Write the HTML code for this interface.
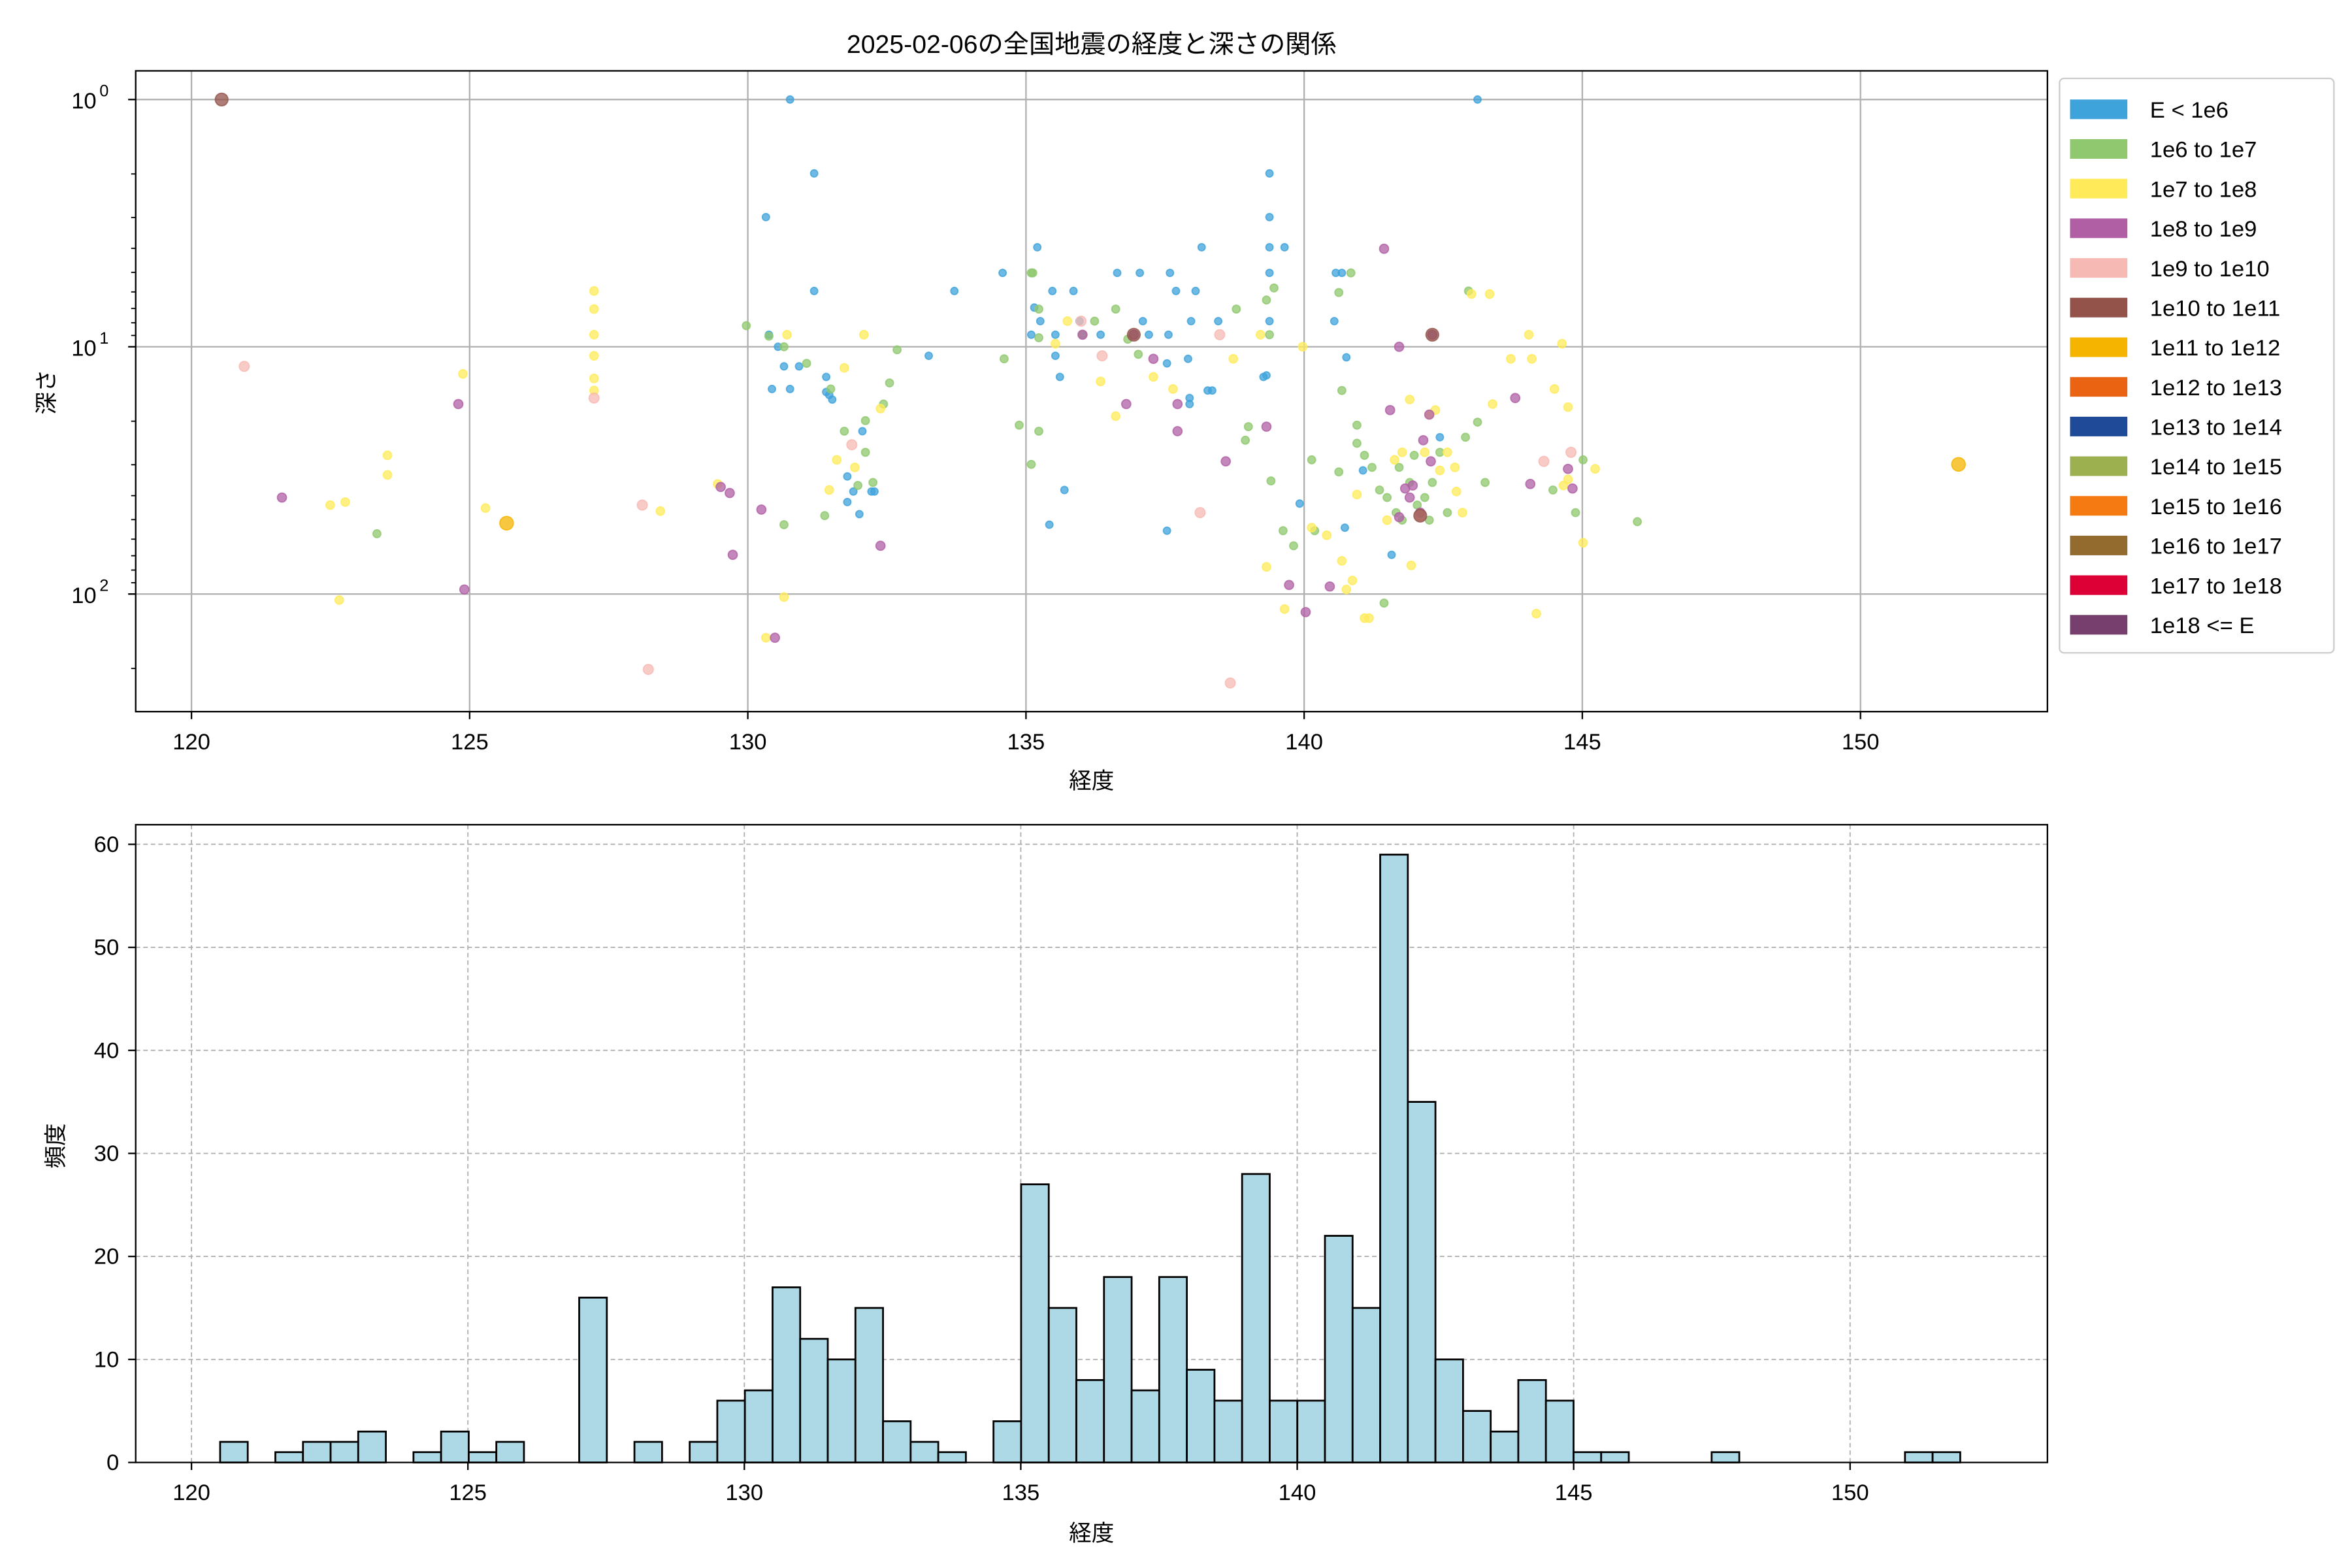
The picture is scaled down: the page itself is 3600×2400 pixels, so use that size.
<!DOCTYPE html>
<html><head><meta charset="utf-8"><style>
html,body{margin:0;padding:0;background:#fff}
svg{display:block}
text{font-family:"Liberation Sans","Noto Sans CJK JP",sans-serif;fill:#000}
</style></head><body>
<svg id="s" width="3600" height="2400" viewBox="0 0 1560 1040" xmlns="http://www.w3.org/2000/svg">
<rect width="1560" height="1040" fill="#fff"/>
<g id="g"></g>
<text x="724" y="35" font-size="17" text-anchor="middle">2025-02-06の全国地震の経度と深さの関係</text>
<text x="724" y="523" font-size="15" text-anchor="middle">経度</text>
<text x="724" y="1022" font-size="15" text-anchor="middle">経度</text>
<text transform="translate(36,260) rotate(-90)" font-size="15" text-anchor="middle">深さ</text>
<text transform="translate(42,760) rotate(-90)" font-size="15" text-anchor="middle">頻度</text>
</svg>
<script>
const g=document.getElementById('g');let h='';
// top axes grid
const X1=v=>127+(v-120)*36.9;
for(let v=120;v<=150;v+=5){const x=X1(v);h+=`<line x1="${x}" y1="47" x2="${x}" y2="472" stroke="#b0b0b0" stroke-width="1"/>`;
h+=`<line x1="${x}" y1="472" x2="${x}" y2="477" stroke="#000"/><text x="${x}" y="497" font-size="15" text-anchor="middle">${v}</text>`;}
[66,230,394].forEach((y,i)=>{h+=`<line x1="90" y1="${y}" x2="1358" y2="${y}" stroke="#b0b0b0"/><line x1="85" y1="${y}" x2="90" y2="${y}" stroke="#000"/>`;
h+=`<text x="64" y="${y+6}" font-size="15" text-anchor="end">10</text><text x="66" y="${y-2}" font-size="11">${i}</text>`;});
for(let d=0;d<3;d++)for(let k=2;k<10;k++){const y=66+164*(d+Math.log10(k));if(y<472)h+=`<line x1="87" y1="${y}" x2="90" y2="${y}" stroke="#000" stroke-width="0.8"/>`;}
const P={
'#3fa3db':[[524,66],[980,66],[540,115],[842,115],[508,144],[842,144],[688,164],[842,164],[852,164],[540,193],[633,193],[665,181],[698,193],[712,193],[741,181],[756,181],[776,181],[780,193],[793,193],[797,164],[886,181],[890,181],[842,181],[686,204],[690,213],[716,213],[758,213],[790,213],[808,213],[842,213],[885,213],[684,222],[700,222],[730,222],[762,222],[775,222],[510,222],[516,230],[530,243],[520,243],[548,250],[512,258],[524,258],[700,236],[703,250],[616,236],[840,249],[893,237],[774,241],[788,238],[801,259],[804,259],[789,264],[789,268],[548,260],[550,262],[552,265],[572,286],[562,316],[566,326],[578,326],[562,333],[570,341],[580,326],[706,325],[696,348],[774,352],[838,250],[862,334],[892,350],[904,312],[923,368],[955,290]],
'#8fc86e':[[495,216],[510,223],[520,230],[535,241],[595,232],[666,238],[684,181],[689,205],[718,222],[726,213],[740,205],[748,225],[755,235],[820,205],[840,199],[842,222],[845,191],[828,283],[826,292],[676,282],[684,308],[689,286],[685,181],[689,224],[551,258],[574,300],[590,254],[586,268],[569,322],[579,320],[560,286],[574,279],[547,342],[520,348],[250,354],[888,194],[896,181],[890,259],[900,294],[905,302],[910,310],[915,325],[918,400],[935,320],[940,335],[945,330],[950,320],[955,300],[960,340],[930,345],[972,290],[1086,346],[1045,340],[1050,305],[1030,325],[974,193],[980,280],[888,313],[900,282],[870,305],[872,352],[851,352],[858,362],[843,319],[985,320],[928,310],[938,302],[920,330],[926,340],[948,345]],
'#ffeb5a':[[394,193],[394,205],[394,222],[394,236],[394,251],[394,259],[307,248],[257,302],[257,315],[219,335],[229,333],[225,398],[322,337],[438,339],[476,321],[522,222],[520,396],[508,423],[560,244],[573,222],[550,325],[555,305],[567,310],[584,271],[700,228],[708,213],[730,253],[740,276],[765,250],[778,258],[818,238],[836,222],[840,376],[852,404],[864,230],[870,350],[880,355],[890,372],[893,391],[897,385],[905,410],[908,410],[900,328],[930,300],[935,265],[948,275],[952,272],[960,300],[965,310],[966,326],[970,340],[1002,238],[1014,222],[1016,238],[1031,258],[1036,228],[1040,270],[1058,311],[1050,360],[1019,407],[1037,322],[1040,318],[976,195],[988,195],[990,268],[920,345],[936,375],[925,305],[945,300],[955,312]],
'#b05fa5':[[187,330],[304,268],[308,391],[478,323],[484,327],[514,423],[505,338],[486,368],[584,362],[718,222],[747,268],[752,222],[765,238],[781,286],[781,268],[813,306],[840,283],[855,388],[866,406],[882,389],[918,165],[928,230],[922,272],[928,343],[935,330],[944,292],[948,275],[950,222],[1005,264],[1015,321],[1040,311],[1043,324],[932,324],[937,322],[942,340],[949,306]],
'#f7b9b3':[[162,243],[394,264],[426,335],[430,444],[565,295],[717,213],[731,236],[809,222],[816,453],[796,340],[1024,306],[1042,300],[942,342]],
'#93524a':[[147,66],[752,222],[950,222],[942,342]],
'#f5b400':[[1299,308],[336,347]]};
const R={'#3fa3db':2.4,'#8fc86e':2.6,'#ffeb5a':2.8,'#b05fa5':3,'#f7b9b3':3.3,'#93524a':4.2,'#f5b400':4.5};
for(const c in P)for(const [x,y] of P[c])h+=`<circle cx="${x}" cy="${y}" r="${R[c]}" fill="${c}" fill-opacity="0.75" stroke="${c}" stroke-opacity="0.8" stroke-width="0.8"/>`;
h+=`<rect x="90" y="47" width="1268" height="425" fill="none" stroke="#000" stroke-width="1"/>`;
// legend
h+=`<rect x="1366" y="52" width="182" height="381" rx="3" fill="#fff" stroke="#ccc"/>`;
const L=[['#3fa3db','E < 1e6'],['#8fc86e','1e6 to 1e7'],['#ffeb5a','1e7 to 1e8'],['#b05fa5','1e8 to 1e9'],['#f7b9b3','1e9 to 1e10'],['#93524a','1e10 to 1e11'],['#f5b400','1e11 to 1e12'],['#ea6313','1e12 to 1e13'],['#1e4a98','1e13 to 1e14'],['#9cb050','1e14 to 1e15'],['#f57a12','1e15 to 1e16'],['#946b2e','1e16 to 1e17'],['#dc0037','1e17 to 1e18'],['#773f6e','1e18 <= E']];
L.forEach(([c,t],i)=>{const y=72+i*26.3;h+=`<rect x="1373" y="${y-6}" width="38" height="13" fill="${c}"/><text x="1426" y="${y+6}" font-size="15">${t}</text>`;});
// bottom axes
const X2=v=>127+(v-120)*36.67, Y2=n=>970-n*6.833;
for(let v=120;v<=150;v+=5){const x=X2(v);h+=`<line x1="${x}" y1="547" x2="${x}" y2="970" stroke="#b0b0b0" stroke-dasharray="3,2" stroke-width="0.8"/><line x1="${x}" y1="970" x2="${x}" y2="975" stroke="#000"/><text x="${x}" y="995" font-size="15" text-anchor="middle">${v}</text>`;}
for(let n=0;n<=60;n+=10){const y=Y2(n);h+=`<line x1="90" y1="${y}" x2="1358" y2="${y}" stroke="#b0b0b0" stroke-dasharray="3,2" stroke-width="0.8"/><line x1="85" y1="${y}" x2="90" y2="${y}" stroke="#000"/><text x="79" y="${y+5}" font-size="15" text-anchor="end">${n}</text>`;}
const H=[2,0,1,2,2,3,0,1,3,1,2,0,0,16,0,2,0,2,6,7,17,12,10,15,4,2,1,0,4,27,15,8,18,7,18,9,6,28,6,6,22,15,59,35,10,5,3,8,6,1,1,0,0,0,1,0,0,0,0,0,0,1,1];
H.forEach((n,i)=>{if(!n)return;const x=146+18.32*i;h+=`<rect x="${x}" y="${Y2(n)}" width="18.32" height="${n*6.833}" fill="#add8e6" stroke="#000" stroke-width="1.2"/>`;});
h+=`<rect x="90" y="547" width="1268" height="423" fill="none" stroke="#000" stroke-width="1"/>`;
g.innerHTML=h;
</script>
</body></html>
